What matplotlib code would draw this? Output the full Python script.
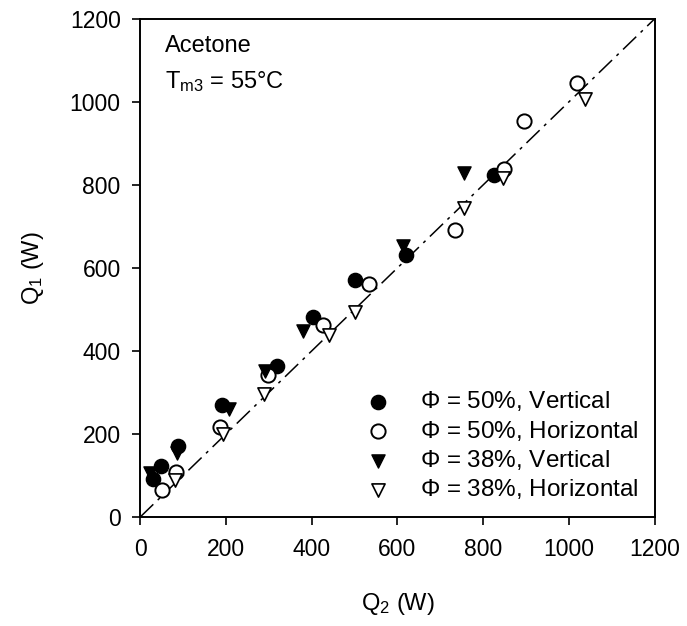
import matplotlib
matplotlib.use("Agg")
import matplotlib.pyplot as plt

plt.rcParams['font.family'] = ['Liberation Sans', 'DejaVu Sans']
plt.rcParams['mathtext.fontset'] = 'custom'
plt.rcParams['mathtext.rm'] = 'Liberation Sans'
plt.rcParams['mathtext.it'] = 'Liberation Sans'

# phi = 50%, vertical (filled circles)
q2_50v = [29, 48, 89, 190, 320, 403, 500, 619, 826]
q1_50v = [92, 122, 170, 269, 364, 481, 572, 631, 824]

# phi = 50%, horizontal (open circles)
q2_50h = [51, 84, 187, 298, 426, 533, 735, 848, 896, 1019]
q1_50h = [65, 108, 218, 343, 463, 562, 691, 839, 953, 1045]

# phi = 38%, vertical (filled triangles)
q2_38v = [22, 86, 207, 290, 380, 613, 756]
q1_38v = [105, 154, 260, 352, 449, 654, 829]

# phi = 38%, horizontal (open triangles)
q2_38h = [81, 193, 288, 440, 500, 756, 846, 1037]
q1_38h = [89, 200, 297, 438, 495, 744, 816, 1006]

labels = [r'$\Phi$ = 50%, Vertical', r'$\Phi$ = 50%, Horizontal',
          r'$\Phi$ = 38%, Vertical', r'$\Phi$ = 38%, Horizontal']

fig = plt.figure(figsize=(6.87, 6.26), dpi=100)
ax = fig.add_axes([0.204, 0.174, 0.749, 0.796])

ax.plot([0, 1200], [0, 1200], color='black', lw=1.1,
        linestyle=(0, (12, 4, 2, 4)), zorder=1)

ax.scatter(q2_50v, q1_50v, s=105, marker='o', facecolor='black',
           edgecolor='black', label=labels[0], zorder=3)
ax.scatter(q2_50h, q1_50h, s=105, marker='o', facecolor='white',
           edgecolor='black', linewidth=1.4, label=labels[1], zorder=3)
ax.scatter(q2_38v, q1_38v, s=90, marker='v', facecolor='black',
           edgecolor='black', label=labels[2], zorder=3)
ax.scatter(q2_38h, q1_38h, s=90, marker='v', facecolor='white',
           edgecolor='black', linewidth=1.2, label=labels[3], zorder=3)

ax.set_xlim(0, 1200)
ax.set_ylim(0, 1200)
ax.set_xticks(range(0, 1201, 200))
ax.set_yticks(range(0, 1201, 200))
ax.tick_params(direction='out', length=6, width=1.2, labelsize=16.5)
ax.tick_params(axis='x', pad=9)
ax.tick_params(axis='y', pad=8)
for sp in ax.spines.values():
    sp.set_linewidth(1.4)

ax.set_xlabel('Q$_2$ (W)', fontsize=17, labelpad=22)
ax.set_ylabel('Q$_1$ (W)', fontsize=17, labelpad=17)

ax.text(57, 1135, 'Acetone', fontsize=17, va='center')
ax.text(57, 1050, r'T$_{\mathrm{m3}}$ = 55°C', fontsize=17, va='center')

ax.legend(loc='lower right', frameon=False, fontsize=17.5,
          handletextpad=0.75, labelspacing=0.22, borderaxespad=0.25,
          scatterpoints=1)

fig.savefig('out.png', dpi=100)
